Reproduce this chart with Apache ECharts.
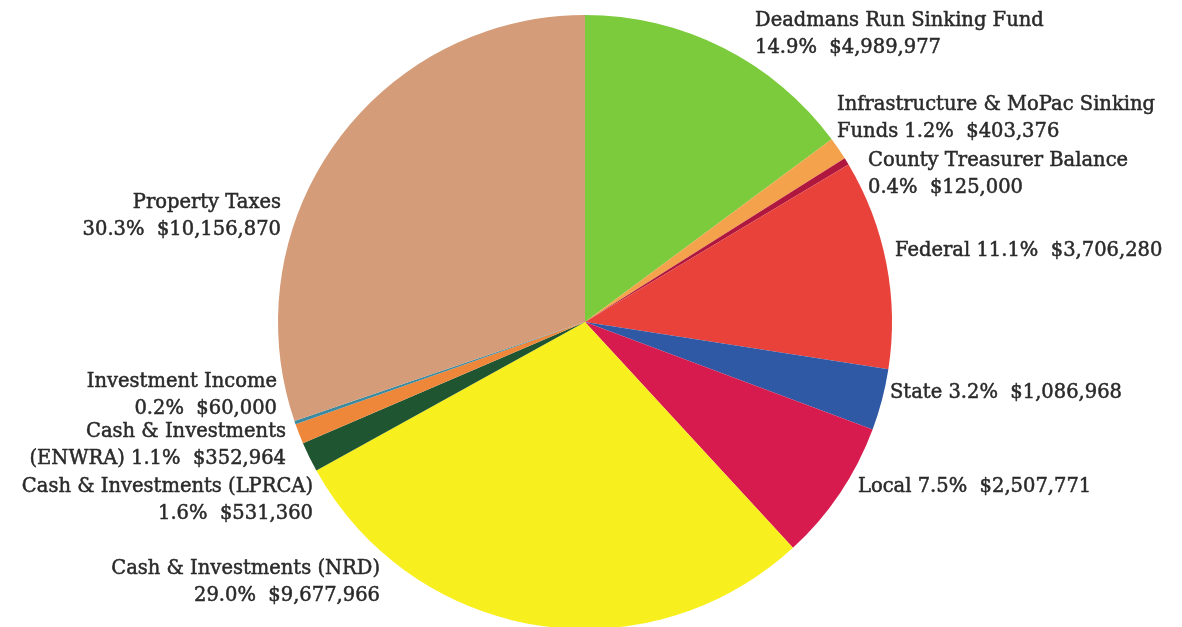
<!DOCTYPE html>
<html>
<head>
<meta charset="utf-8">
<script src="https://cdn.jsdelivr.net/npm/echarts@6/dist/echarts.min.js"></script>
<style>html,body{margin:0;padding:0;background:#fff;}#c{width:1182px;height:627px;}</style>
</head>
<body>
<div id="c"></div>
<script>
const categories = ["Deadmans Run Sinking Fund","Infrastructure & MoPac Sinking Funds","County Treasurer Balance","Federal","State","Local","Cash & Investments (NRD)","Cash & Investments (LPRCA)","Cash & Investments (ENWRA)","Investment Income","Property Taxes"];
const values = [4989977,403376,125000,3706280,1086968,2507771,9677966,531360,352964,60000,10156870];
const percents = ["14.9%","1.2%","0.4%","11.1%","3.2%","7.5%","29.0%","1.6%","1.1%","0.2%","30.3%"];
const labelText = [
  "Deadmans Run Sinking Fund\n{p}  {v}",
  "Infrastructure & MoPac Sinking\nFunds {p}  {v}",
  "County Treasurer Balance\n{p}  {v}",
  "Federal {p}  {v}",
  "State {p}  {v}",
  "Local {p}  {v}",
  "Cash & Investments (NRD)\n{p}  {v}",
  "Cash & Investments (LPRCA)\n{p}  {v}",
  "Cash & Investments\n(ENWRA) {p}  {v}",
  "Investment Income\n{p}  {v}",
  "Property Taxes\n{p}  {v}"
];
const colors = ["#7ccb3d","#f4a24c","#b0173f","#e8423b","#2f58a5","#d81b4e","#f8ef1f","#1f5530","#ef873b","#3b8a9f","#d59c79"];
const labelPos = [
  [755,34,"left"],[837,118,"left"],[868,174,"left"],[895,251,"left"],[890,393,"left"],[858,487,"left"],
  [380,582,"right"],[313,500,"right"],[286,445,"right"],[277,395,"right"],[281,216,"right"]
];
const fmt = n => "$" + n.toLocaleString("en-US");
const chart = echarts.init(document.getElementById("c"));
chart.setOption({
  animation:false,
  series:[{
    type:"pie",
    center:[585,322],
    radius:307,
    startAngle:90,
    clockwise:true,
    avoidLabelOverlap:false,
    data: categories.map((n,i)=>({name:n,value:values[i],itemStyle:{color:colors[i]}})),
    label:{
      show:true,position:"outside",
      fontFamily:"DejaVu Serif",fontSize:19.5,color:"#2a2a2a",lineHeight:27,
      textBorderColor:"#2a2a2a",textBorderWidth:0.5,
      formatter:p=>labelText[p.dataIndex].replace("{p}",percents[p.dataIndex]).replace("{v}",fmt(values[p.dataIndex]))
    },
    labelLine:{show:false},
    labelLayout:p=>{const q=labelPos[p.dataIndex];return {x:q[0],y:q[1],align:q[2],verticalAlign:"middle"};},
    emphasis:{disabled:true}
  }]
});
</script>
</body>
</html>
